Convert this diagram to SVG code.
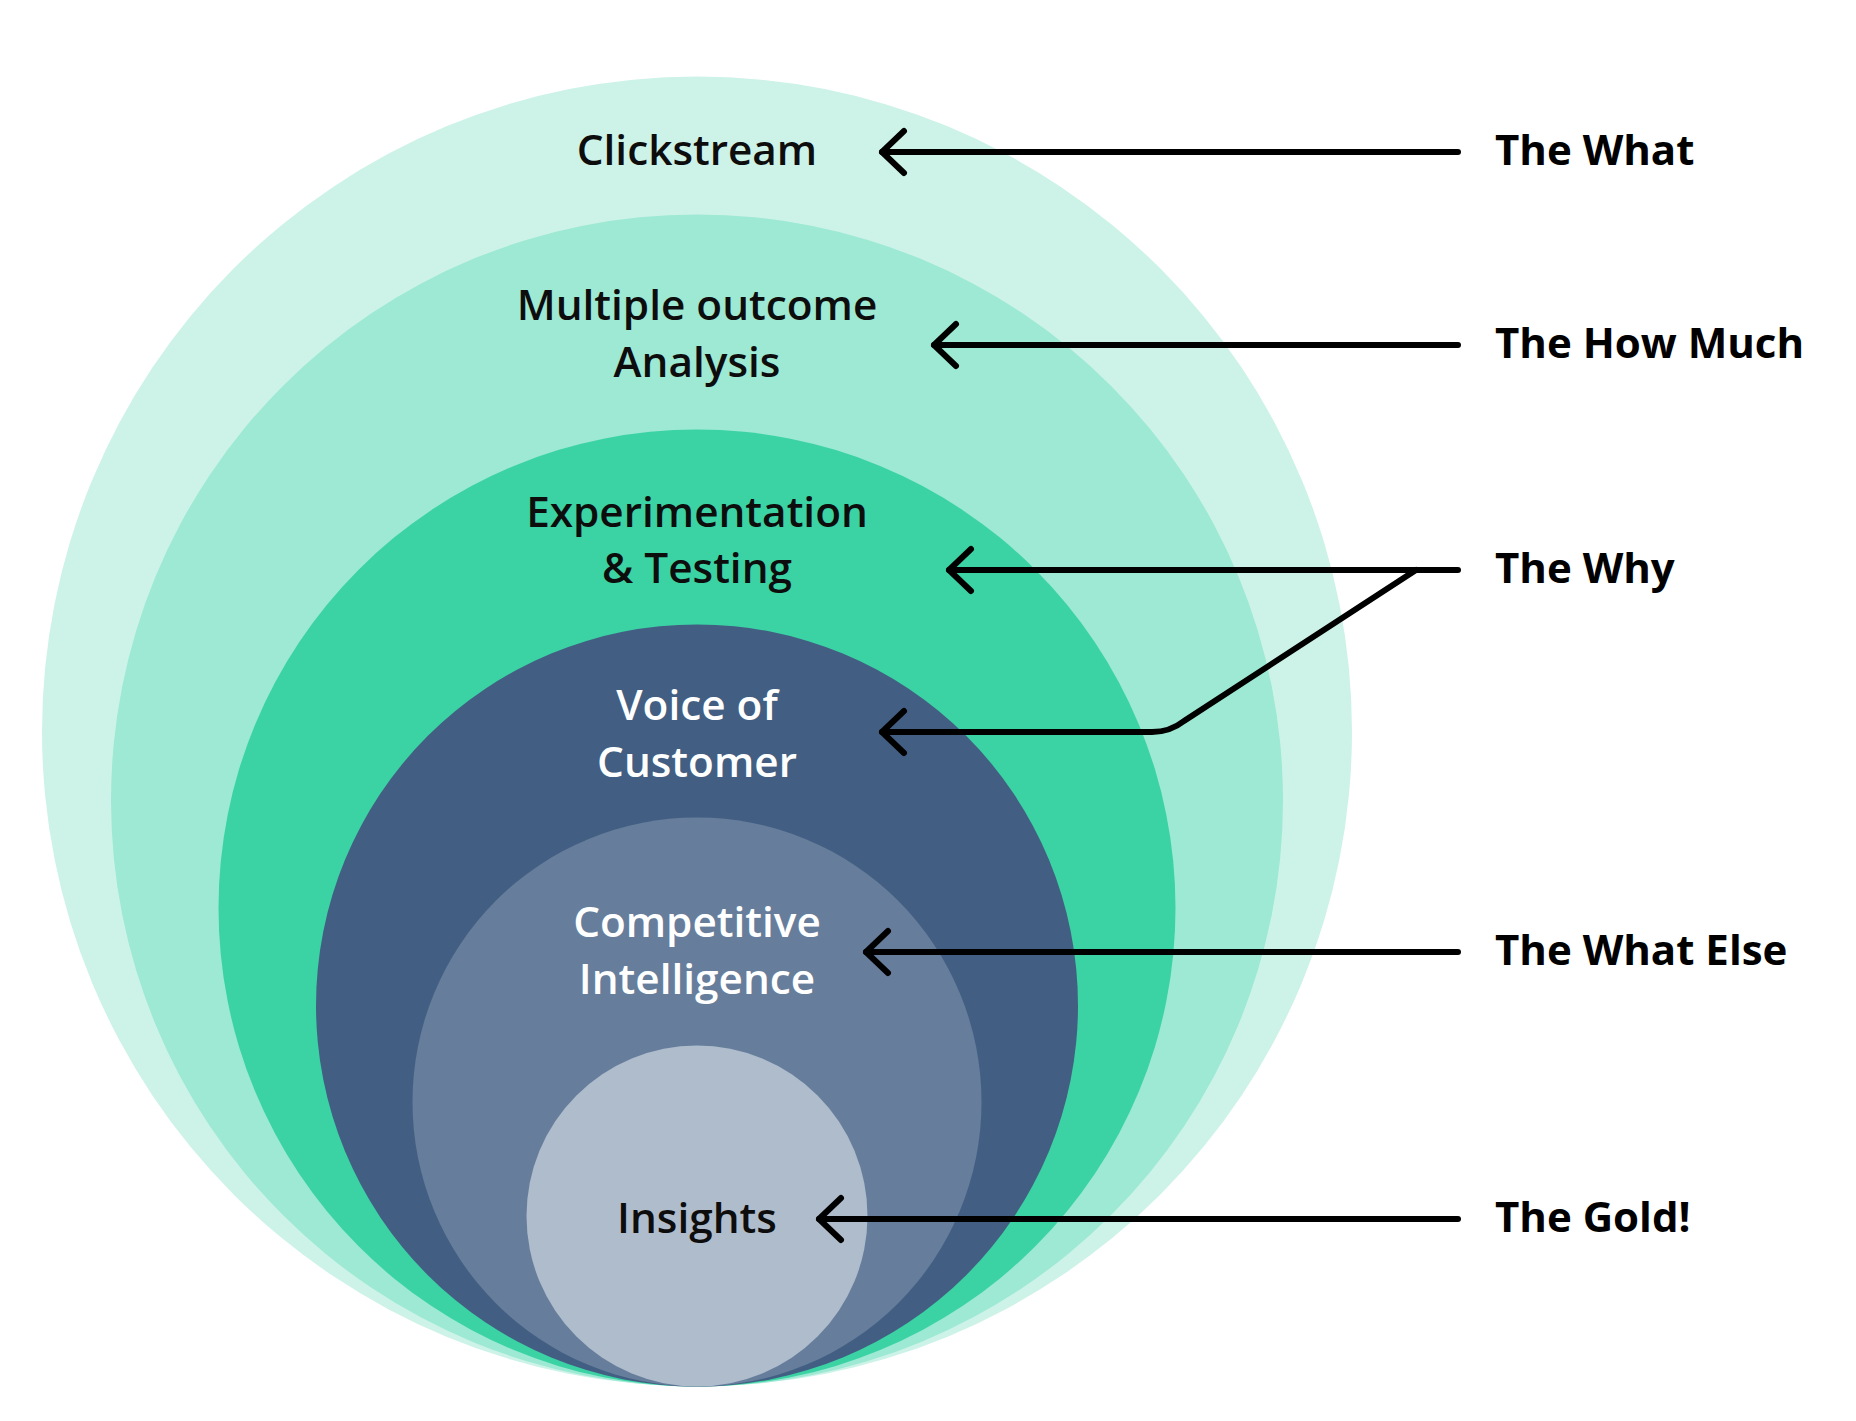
<svg xmlns="http://www.w3.org/2000/svg" width="1856" height="1421" viewBox="0 0 1856 1421">
<style>
.lbl{font-family:"Open Sans","Liberation Sans",sans-serif;font-size:42.3px;font-weight:600;text-anchor:middle;fill:#0d0d0d}
.lbl.w{fill:#ffffff}
.tag{font-family:"Open Sans","Liberation Sans",sans-serif;font-size:42px;font-weight:700;fill:#000}
.conn{fill:none;stroke:#000;stroke-width:6;stroke-linecap:round;stroke-linejoin:round;marker-end:url(#chev)}
</style>
<defs>
<marker id="chev" markerUnits="userSpaceOnUse" markerWidth="60" markerHeight="60" viewBox="-30 -30 60 60" refX="0" refY="0" orient="auto" overflow="visible">
<path d="M-22,-21 L0,0 L-22,21" fill="none" stroke="#000" stroke-width="6" stroke-linecap="round" stroke-linejoin="round"/>
</marker>
</defs>
<rect width="1856" height="1421" fill="#ffffff"/>
<g id="clickstream">
<circle cx="697" cy="731.5" r="655" fill="#CDF3E8"/>
<text class="lbl" x="697" y="165">Clickstream</text>
</g>
<g id="multiple-outcome">
<circle cx="697" cy="800.5" r="586" fill="#9DE9D3"/>
<text class="lbl" x="697" y="320">Multiple outcome</text>
<text class="lbl" x="697" y="377">Analysis</text>
</g>
<g id="experimentation">
<circle cx="697" cy="908" r="478.5" fill="#3BD3A4"/>
<text class="lbl" x="697" y="527">Experimentation</text>
<text class="lbl" x="697" y="583">&amp; Testing</text>
</g>
<g id="voice-of-customer">
<circle cx="697" cy="1005.5" r="381" fill="#425F83"/>
<text class="lbl w" x="697" y="720">Voice of</text>
<text class="lbl w" x="697" y="777">Customer</text>
</g>
<g id="competitive-intelligence">
<circle cx="697" cy="1102" r="284.5" fill="#667E9C"/>
<text class="lbl w" x="697" y="937">Competitive</text>
<text class="lbl w" x="697" y="994">Intelligence</text>
</g>
<g id="insights">
<circle cx="697" cy="1216" r="170.5" fill="#AFBCCB"/>
<text class="lbl" x="697" y="1233">Insights</text>
</g>
<g id="connectors">
<path class="conn" d="M1458,152 H882"/>
<path class="conn" d="M1458,345 H934"/>
<path class="conn" d="M1458,570 H949"/>
<path class="conn" d="M1416,570 L1184,721 Q1170,732 1152,732 H882"/>
<path class="conn" d="M1458,952 H866"/>
<path class="conn" d="M1458,1219 H819"/>
</g>
<g id="the-what"><text class="tag" x="1495" y="165">The What</text></g>
<g id="the-how-much"><text class="tag" x="1495" y="358">The How Much</text></g>
<g id="the-why"><text class="tag" x="1495" y="583">The Why</text></g>
<g id="the-what-else"><text class="tag" x="1495" y="965">The What Else</text></g>
<g id="the-gold"><text class="tag" x="1495" y="1232">The Gold!</text></g>
</svg>
